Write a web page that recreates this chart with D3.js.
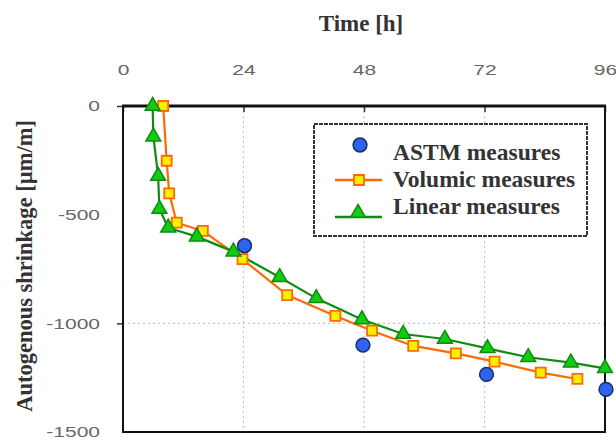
<!DOCTYPE html>
<html><head><meta charset="utf-8">
<script src="https://cdn.jsdelivr.net/npm/d3@7"></script>
<style>
body{margin:0;background:#fff;}
svg{display:block;}
</style></head>
<body>
<svg id="chart" width="616" height="441"></svg>
<script>
const xTicks = [0, 24, 48, 72, 96];
const yTicks = [0, -500, -1000, -1500];
const astmX = [24.2, 47.8, 72.4, 96.2];
const astmY = [-643, -1100, -1235, -1304];
const volX = [8.0, 8.7, 9.2, 10.7, 15.9, 23.8, 32.7, 42.3, 49.6, 57.8, 66.3, 74.0, 83.2, 90.5];
const volY = [0, -252, -402, -537, -575, -705, -870, -966, -1034, -1104, -1138, -1176, -1227, -1256];
const linX = [5.9, 6.05, 7.0, 7.25, 9.0, 14.7, 22.0, 31.2, 38.5, 47.6, 55.8, 64.1, 72.6, 80.7, 89.2, 96.0];
const linY = [0, -141, -322, -474, -560, -601, -670, -788, -885, -982, -1049, -1072, -1115, -1156, -1181, -1207];
const legendLabels = ["ASTM measures", "Volumic measures", "Linear measures"];

const svg = d3.select("#chart");
const L = 123, R = 605, T = 106, B = 432;
const x = d3.scaleLinear().domain([0, 96]).range([L, R]);
const y = d3.scaleLinear().domain([0, -1500]).range([T, B]);
const serif = "'Liberation Serif','Times New Roman',serif";
const sans = "'Liberation Sans',Arial,sans-serif";

function stretch(sel, k) {
  sel.each(function () {
    const w = this.getComputedTextLength();
    d3.select(this).attr("textLength", w * k).attr("lengthAdjust", "spacingAndGlyphs");
  });
}

// grid
const grid = svg.append("g").attr("stroke", "#c4c4c4").attr("stroke-width", 1.2).attr("stroke-dasharray", "2,3");
[24, 48, 72].forEach(v => grid.append("line").attr("x1", x(v)).attr("x2", x(v)).attr("y1", T).attr("y2", B));
[-1000].forEach(v => grid.append("line").attr("x1", L).attr("x2", R).attr("y1", y(v)).attr("y2", y(v)));

// top axis
const xa = svg.append("g").attr("transform", `translate(0,${T})`)
  .call(d3.axisTop(x).tickValues(xTicks).tickSize(-6).tickSizeOuter(0).tickFormat(d => String(d)));
xa.select(".domain").remove();
xa.selectAll(".tick line").attr("stroke", "#333").attr("stroke-width", 1.5);
xa.selectAll(".tick text").attr("font-family", sans).attr("font-size", 15).attr("fill", "#666").attr("dy", "0.35em").attr("y", -36);
stretch(xa.selectAll(".tick text"), 1.4);

// left axis
const ya = svg.append("g").attr("transform", `translate(${L},0)`)
  .call(d3.axisLeft(y).tickValues(yTicks).tickSize(6).tickSizeOuter(0).tickFormat(d => String(d)));
ya.select(".domain").remove();
ya.selectAll(".tick line").attr("stroke", "#333").attr("stroke-width", 1.5)
  .attr("display", d => (d === 0 || d === -1000) ? null : "none");
ya.selectAll(".tick text").attr("font-family", sans).attr("font-size", 15).attr("fill", "#666").attr("x", -23);
stretch(ya.selectAll(".tick text"), 1.4);

// frame
svg.append("rect").attr("x", L).attr("y", T).attr("width", R - L).attr("height", B - T)
  .attr("fill", "none").attr("stroke", "#111").attr("stroke-width", 2);
svg.append("line").attr("x1", L - 1).attr("x2", R + 1).attr("y1", T).attr("y2", T).attr("stroke", "#111").attr("stroke-width", 3);

// titles
svg.append("text").attr("x", 361).attr("y", 31).attr("text-anchor", "middle")
  .attr("font-family", serif).attr("font-weight", "bold").attr("font-size", 23).attr("fill", "#333").text("Time [h]");
svg.append("text").attr("transform", `translate(32,266) rotate(-90)`).attr("text-anchor", "middle")
  .attr("font-family", serif).attr("font-weight", "bold").attr("font-size", 22.5).attr("fill", "#333").text("Autogenous shrinkage [µm/m]");

// series
const orange = "#ff6a00", green = "#118a11";
const line = d3.line().x(d => x(d[0])).y(d => y(d[1]));
const volData = volX.map((v, i) => [v, volY[i]]);
const linData = linX.map((v, i) => [v, linY[i]]);
const astmData = astmX.map((v, i) => [v, astmY[i]]);

svg.append("path").datum(volData).attr("d", line).attr("fill", "none").attr("stroke", orange).attr("stroke-width", 2.2);
svg.append("path").datum(linData).attr("d", line).attr("fill", "none").attr("stroke", green).attr("stroke-width", 2.2);

const sq = d3.symbol().type(d3.symbolSquare).size(100);
const tri = d3.symbol().type(d3.symbolTriangle).size(95);
const circ = d3.symbol().type(d3.symbolCircle).size(150);

svg.append("g").selectAll("path").data(volData).join("path")
  .attr("transform", d => `translate(${x(d[0])},${y(d[1])})`).attr("d", sq)
  .attr("fill", "#ffee00").attr("stroke", orange).attr("stroke-width", 1.8);
svg.append("g").selectAll("path").data(linData).join("path")
  .attr("transform", d => `translate(${x(d[0])},${y(d[1])})`).attr("d", tri)
  .attr("fill", "#11cc11").attr("stroke", green).attr("stroke-width", 1.5);
svg.append("g").selectAll("path").data(astmData).join("path")
  .attr("transform", d => `translate(${x(d[0])},${y(d[1])})`).attr("d", circ)
  .attr("fill", "#2f63ee").attr("stroke", "#15306e").attr("stroke-width", 1.5);

// legend
const lg = svg.append("g");
lg.append("rect").attr("x", 314).attr("y", 124).attr("width", 273).attr("height", 112)
  .attr("fill", "#fff").attr("stroke", "#333").attr("stroke-width", 2).attr("stroke-dasharray", "4,1");
const baselines = [160, 187, 214];
lg.append("path").attr("transform", `translate(360,145)`).attr("d", circ).attr("fill", "#2f63ee").attr("stroke", "#15306e").attr("stroke-width", 1.5);
lg.append("line").attr("x1", 335).attr("x2", 382).attr("y1", 180).attr("y2", 180).attr("stroke", orange).attr("stroke-width", 2.5);
lg.append("path").attr("transform", `translate(359,180)`).attr("d", sq).attr("fill", "#ffee00").attr("stroke", orange).attr("stroke-width", 1.8);
lg.append("line").attr("x1", 335).attr("x2", 382).attr("y1", 217).attr("y2", 217).attr("stroke", green).attr("stroke-width", 2.5);
lg.append("path").attr("transform", `translate(358,213)`).attr("d", tri).attr("fill", "#11cc11").attr("stroke", green).attr("stroke-width", 1.5);
legendLabels.forEach((t, i) => {
  lg.append("text").attr("x", 393).attr("y", baselines[i])
    .attr("font-family", serif).attr("font-weight", "bold").attr("font-size", 23.5).attr("fill", "#333").text(t);
});
</script>
</body></html>
